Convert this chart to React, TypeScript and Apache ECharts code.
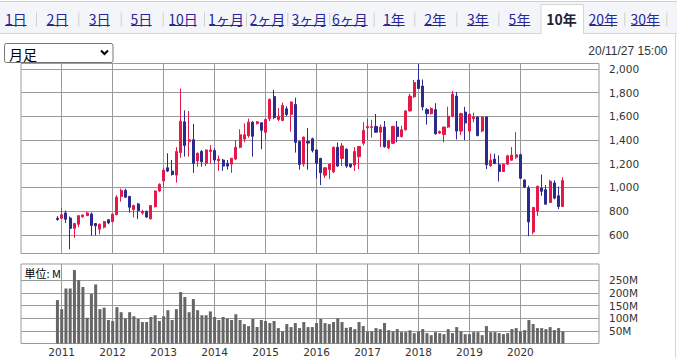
import React, { useEffect, useRef } from "react";
import * as echarts from "echarts";

// ---- data (monthly candles, Dec 2010 .. Nov 2020) ----
const firstYear = 2010;
const firstMonth = 12;
const open = [
  740, 740, 785, 742, 655, 690, 752, 762, 776, 696,
  648, 665, 727, 713, 770, 924, 975, 924, 813, 861,
  784, 798, 735, 838, 970, 1055, 1166, 1138, 1104, 1294,
  1553, 1388, 1402, 1223, 1303, 1203, 1303, 1311, 1225, 1231,
  1203, 1197, 1239, 1339, 1408, 1436, 1550, 1539, 1545, 1465,
  1579, 1766, 1573, 1564, 1663, 1616, 1700, 1388, 1197, 1388,
  1410, 1316, 1245, 1103, 1151, 1132, 1339, 1245, 1322, 1197,
  1189, 1260, 1372, 1503, 1505, 1514, 1466, 1509, 1333, 1372,
  1509, 1429, 1486, 1645, 1764, 1906, 1855, 1656, 1622, 1656,
  1458, 1446, 1509, 1600, 1770, 1475, 1636, 1475, 1580, 1594,
  1475, 1594, 1182, 1239, 1191, 1134, 1196, 1230, 1255, 1276,
  1063, 995, 624, 802, 995, 981, 873, 1038, 930, 839,
];
const close = [
  730, 770, 732, 655, 696, 762, 767, 785, 680, 676,
  690, 712, 701, 775, 918, 975, 918, 833, 847, 804,
  798, 750, 847, 970, 1026, 1146, 1138, 1109, 1303, 1559,
  1354, 1402, 1203, 1288, 1217, 1316, 1316, 1231, 1239, 1180,
  1180, 1245, 1339, 1444, 1444, 1550, 1431, 1553, 1482, 1573,
  1743, 1588, 1601, 1692, 1616, 1720, 1380, 1194, 1424, 1374,
  1311, 1203, 1123, 1166, 1197, 1339, 1180, 1350, 1180, 1174,
  1303, 1345, 1480, 1514, 1512, 1466, 1509, 1344, 1395, 1514,
  1429, 1486, 1645, 1770, 1884, 1835, 1679, 1622, 1665, 1452,
  1472, 1509, 1600, 1787, 1475, 1622, 1543, 1617, 1594, 1438,
  1594, 1191, 1230, 1202, 1134, 1196, 1267, 1273, 1275, 1077,
  1003, 709, 831, 1010, 967, 859, 1052, 910, 839, 1058,
];
const low = [
  718, 735, 700, 478, 575, 665, 745, 758, 592, 595,
  605, 655, 690, 705, 765, 880, 910, 787, 747, 733,
  770, 745, 730, 830, 960, 1005, 1130, 1100, 1040, 1251,
  1260, 1260, 1123, 1175, 1175, 1180, 1200, 1200, 1140, 1140,
  1150, 1123, 1230, 1330, 1380, 1420, 1260, 1530, 1323, 1400,
  1560, 1575, 1560, 1560, 1600, 1470, 1294, 1150, 1175, 1150,
  1295, 1075, 1020, 1080, 1070, 1120, 1175, 1180, 1165, 1165,
  1140, 1155, 1355, 1400, 1420, 1460, 1340, 1335, 1322, 1365,
  1380, 1420, 1480, 1640, 1755, 1830, 1650, 1530, 1615, 1445,
  1450, 1380, 1500, 1590, 1405, 1440, 1400, 1400, 1550, 1430,
  1465, 1155, 1175, 1195, 1050, 1130, 1190, 1225, 1240, 1077,
  995, 589, 604, 760, 930, 855, 870, 900, 817, 835,
];
const high = [
  758, 828, 805, 755, 700, 766, 772, 795, 790, 700,
  695, 718, 735, 780, 935, 990, 990, 930, 855, 870,
  810, 805, 852, 975, 1035, 1168, 1288, 1231, 1340, 1834,
  1650, 1645, 1536, 1295, 1315, 1320, 1358, 1330, 1270, 1240,
  1231, 1250, 1400, 1490, 1540, 1580, 1560, 1560, 1550, 1580,
  1750, 1823, 1670, 1715, 1685, 1725, 1757, 1395, 1430, 1500,
  1420, 1320, 1250, 1170, 1200, 1345, 1380, 1375, 1330, 1200,
  1340, 1350, 1550, 1580, 1570, 1619, 1530, 1560, 1400, 1520,
  1560, 1520, 1650, 1790, 1906, 2043, 1910, 1670, 1675, 1710,
  1480, 1512, 1680, 1815, 1805, 1630, 1680, 1625, 1630, 1600,
  1600, 1600, 1285, 1285, 1270, 1200, 1275, 1340, 1466, 1285,
  1066, 1015, 835, 1015, 1109, 1020, 1065, 1060, 1007, 1085,
];
// monthly volume, millions of shares
const volume = [
  172, 136, 218, 218, 291, 251, 224, 102, 196, 234,
  136, 142, 93, 89, 144, 124, 99, 124, 108, 97,
  85, 85, 105, 112, 89, 108, 132, 93, 136, 204,
  184, 124, 176, 132, 112, 112, 127, 105, 93, 105,
  99, 93, 116, 93, 77, 69, 97, 65, 93, 89,
  81, 89, 61, 48, 77, 65, 81, 61, 85, 65,
  65, 81, 97, 81, 77, 85, 100, 85, 62, 65,
  57, 85, 69, 48, 48, 61, 57, 81, 53, 48,
  57, 45, 45, 52, 41, 48, 57, 41, 33, 45,
  41, 37, 57, 41, 65, 48, 37, 37, 45, 45,
  33, 69, 45, 45, 41, 37, 41, 57, 61, 48,
  53, 93, 77, 61, 61, 57, 65, 53, 61, 48,
];
const yearLabels = ["2011", "2012", "2013", "2014", "2015", "2016", "2017", "2018", "2019", "2020"];
const priceTicks = [600, 800, 1000, 1200, 1400, 1600, 1800, 2000];
const volumeTicks = [50, 100, 150, 200, 250];
const tabLabels = ["1日", "2日", "3日", "5日", "10日", "1ヶ月", "2ヶ月", "3ヶ月", "6ヶ月", "1年", "2年", "3年", "5年", "10年", "20年", "30年"];
const selectedTab = "10年";
const periodLabel = "月足";
const dateLabel = "20/11/27 15:00";
const unitLabel = "単位: M";

// ---- layout ----
const TAB_L = [5, 46.7, 89.3, 131, 169.3, 209.3, 250.7, 292.7, 332, 383, 424.3, 467, 508.7, 547.7, 589.3, 631];
const TAB_R = [26.7, 68.3, 110, 151.7, 196.7, 242.7, 284, 326, 367.7, 404.7, 446, 488.7, 530.3, 575.3, 617, 659.7];
const SEPS = [36, 78.3, 120.7, 162.7, 204, 246, 287.3, 329.3, 373.7, 414.3, 456.3, 498.3, 624.3, 666.3];

const RED = "#e3194a";
const NAVY = "#2b2a8e";
const GRIDC = "#9a9a9a";
const LINK = "#27279a";

// month offset relative to January of the first year label
const monthPos = (i: number) => {
  const y = firstYear + Math.floor((firstMonth - 1 + i) / 12);
  const m = ((firstMonth - 1 + i) % 12);
  return (y - Number(yearLabels[0])) * 12 + m;
};

const X_MIN = -9.58;
const X_MAX = 126.5;
const yearTicks = yearLabels.map((y) => (Number(y) - Number(yearLabels[0])) * 12);

const fmtComma = (v: number) => String(v).replace(/\B(?=(\d{3})+(?!\d))/g, ",");

function buildOption() {
  const candleData = open.map((o, i) => [monthPos(i), o, close[i], low[i], high[i]]);
  const volData = volume.map((v, i) => [monthPos(i), v]);
  const labelStyle = { color: "#333", fontSize: 10.5, fontFamily: "DejaVu Sans" };

  const graphics: any[] = [];
  // tab bar
  graphics.push({ type: "rect", shape: { x: 0, y: 1, width: 677, height: 32.5 }, style: { fill: "#f4f5f8" }, silent: true });
  graphics.push({ type: "line", shape: { x1: 0, y1: 1.5, x2: 677, y2: 1.5 }, style: { stroke: "#cfcfcf", lineWidth: 1 } });
  graphics.push({ type: "line", shape: { x1: 0, y1: 33.5, x2: 541, y2: 33.5 }, style: { stroke: "#d6d6d6", lineWidth: 1 } });
  graphics.push({ type: "line", shape: { x1: 583.5, y1: 33.5, x2: 677, y2: 33.5 }, style: { stroke: "#d6d6d6", lineWidth: 1 } });
  graphics.push({ type: "line", shape: { x1: 675.5, y1: 33.5, x2: 675.5, y2: 358 }, style: { stroke: "#d6d6d6", lineWidth: 1 } });
  // selected tab
  graphics.push({ type: "rect", shape: { x: 541, y: 4.5, width: 42.5, height: 30 }, style: { fill: "#fff" } });
  graphics.push({
    type: "polyline",
    shape: { points: [[541, 34], [541, 4.5], [583.5, 4.5], [583.5, 34]] },
    style: { stroke: "#d6d6d6", lineWidth: 1, fill: "none" },
  });
  SEPS.forEach((x) => {
    graphics.push({ type: "line", shape: { x1: x + 0.5, y1: 12.5, x2: x + 0.5, y2: 26.5 }, style: { stroke: "#d0d0d0", lineWidth: 1 } });
  });
  tabLabels.forEach((t, i) => {
    const cx = (TAB_L[i] + TAB_R[i]) / 2;
    const sel = t === selectedTab;
    graphics.push({
      type: "text",
      x: cx,
      y: 19,
      style: {
        text: t,
        fill: sel ? "#222233" : LINK,
        font: `${sel ? "bold " : ""}14px "Noto Sans CJK JP"`,
        textAlign: "center",
        textVerticalAlign: "middle",
      },
    });
    if (!sel) {
      graphics.push({ type: "line", shape: { x1: TAB_L[i], y1: 25.5, x2: TAB_R[i], y2: 25.5 }, style: { stroke: LINK, lineWidth: 1 } });
    }
  });
  // select box
  graphics.push({ type: "rect", shape: { x: 4.5, y: 43.5, width: 108.5, height: 19, r: 2 }, style: { fill: "#fff", stroke: "#767676", lineWidth: 1 } });
  graphics.push({
    type: "text", x: 9, y: 53.5,
    style: { text: periodLabel, fill: "#000", font: '14px "Noto Sans CJK JP"', textAlign: "left", textVerticalAlign: "middle" },
  });
  graphics.push({
    type: "polyline",
    shape: { points: [[101, 50.5], [104.5, 54], [108, 50.5]] },
    style: { stroke: "#000", lineWidth: 2, fill: "none" },
  });
  // date
  graphics.push({
    type: "text", x: 667.5, y: 51,
    style: { text: dateLabel, fill: "#333", font: '12px "Liberation Sans"', textAlign: "right", textVerticalAlign: "middle" },
  });
  // unit
  graphics.push({
    type: "text", x: 24.5, y: 273, z: 100,
    style: { text: unitLabel, fill: "#000", font: '11px "Noto Sans CJK JP"', textAlign: "left", textVerticalAlign: "middle" },
  });

  return {
    animation: false,
    backgroundColor: "#fff",
    grid: [
      { left: 21, top: 63.5, width: 578, height: 190, show: true, borderColor: GRIDC, borderWidth: 1, containLabel: false },
      { left: 21, top: 264, width: 578, height: 79.5, show: true, borderColor: GRIDC, borderWidth: 1, containLabel: false },
    ],
    xAxis: [
      {
        type: "value", gridIndex: 0, min: X_MIN, max: X_MAX,
        axisLine: { show: false },
        axisTick: { show: false, customValues: yearTicks },
        axisLabel: { show: false, customValues: yearTicks },
        splitLine: { show: true, lineStyle: { color: GRIDC, width: 1 } },
      },
      {
        type: "value", gridIndex: 1, min: X_MIN, max: X_MAX,
        axisLine: { show: false },
        axisTick: { show: false, customValues: yearTicks },
        axisLabel: {
          show: true, customValues: yearTicks, margin: 3, ...labelStyle,
          formatter: (v: number) => yearLabels[Math.round(v / 12)] ?? "",
        },
        splitLine: { show: true, lineStyle: { color: GRIDC, width: 1 } },
      },
    ],
    yAxis: [
      {
        type: "value", gridIndex: 0, position: "right", min: 443, max: 2045,
        axisLine: { show: false },
        axisTick: { show: true, length: 7, customValues: priceTicks, lineStyle: { color: GRIDC } },
        axisLabel: { show: true, customValues: priceTicks, margin: 10, ...labelStyle, formatter: (v: number) => fmtComma(v) },
        splitLine: { show: true, lineStyle: { color: GRIDC, width: 1 } },
      },
      {
        type: "value", gridIndex: 1, position: "right", min: 0, max: 315,
        axisLine: { show: false },
        axisTick: { show: true, length: 7, customValues: volumeTicks, lineStyle: { color: GRIDC } },
        axisLabel: { show: true, customValues: volumeTicks, margin: 10, ...labelStyle, formatter: (v: number) => `${v}M` },
        splitLine: { show: true, lineStyle: { color: GRIDC, width: 1 } },
      },
    ],
    series: [
      {
        type: "candlestick",
        xAxisIndex: 0, yAxisIndex: 0,
        data: candleData,
        encode: { x: 0, y: [1, 2, 3, 4] },
        barWidth: 2.6,
        itemStyle: { color: RED, color0: NAVY, borderColor: RED, borderColor0: NAVY, borderWidth: 1 },
      },
      {
        type: "bar",
        xAxisIndex: 1, yAxisIndex: 1,
        data: volData,
        barWidth: 3,
        itemStyle: { color: "#666" },
      },
    ],
    graphic: graphics,
  };
}

export default function App() {
  const ref = useRef<HTMLDivElement>(null);
  useEffect(() => {
    if (!ref.current) return;
    const chart = echarts.init(ref.current, null, { renderer: "svg" });
    chart.setOption(buildOption() as any);
    return () => chart.dispose();
  }, []);
  return (
    <div
      ref={ref}
      style={{ position: "absolute", left: 0, top: 0, width: 677, height: 358, background: "#fff" }}
    />
  );
}
